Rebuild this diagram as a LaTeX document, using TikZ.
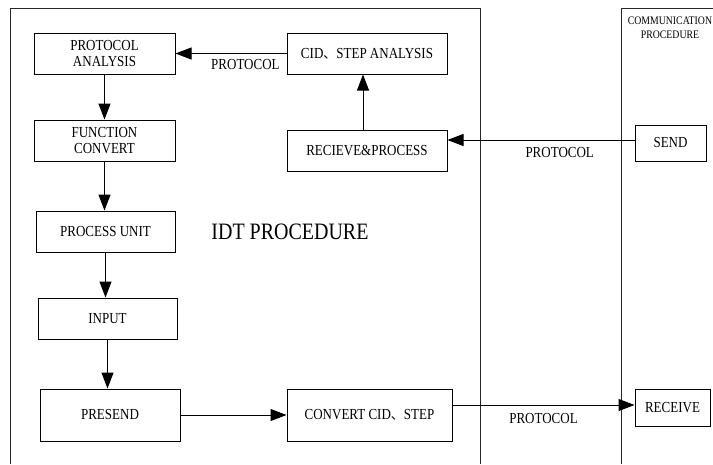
\documentclass[tikz,border=0pt]{standalone}
\usepackage{fontspec}
\setmainfont{Liberation Serif}[FakeStretch=0.85]
\newfontfamily\cjk{Noto Sans CJK SC}
\usetikzlibrary{arrows.meta}
\newcommand{\dunhao}{{\cjk\fontsize{13}{16}\selectfont 、}}
\tikzset{
  box/.style={draw, line width=1pt, align=center, inner sep=0pt,
              font=\fontsize{15.3}{16.5}\selectfont},
  arr/.style={line width=1pt, -{Triangle[length=16pt,width=12pt]}},
  frameline/.style={line width=1pt, draw=black!85},
  lbl/.style={font=\fontsize{15.3}{16}\selectfont, inner sep=0pt}
}
\begin{document}
\begin{tikzpicture}[x=1pt,y=-1pt]
\useasboundingbox (0,0) rectangle (713,464);
% frames
\draw[frameline] (10,464) -- (10,8) -- (480,8) -- (480,464);
\draw[frameline] (621,464) -- (621,8) -- (713,8);
% boxes
\node[box, minimum width=141pt, minimum height=41pt] (pa) at (104.5,53.5) {PROTOCOL\\ANALYSIS};
\node[box, minimum width=141pt, minimum height=41pt] (fc) at (104.5,140.5) {FUNCTION\\CONVERT};
\node[box, minimum width=139pt, minimum height=41pt] (pu) at (105.5,231.5) {PROCESS UNIT};
\node[box, minimum width=139pt, minimum height=41pt] (inp) at (107.5,318.5) {INPUT};
\node[box, minimum width=140pt, minimum height=52pt] (ps) at (110,415) {PRESEND};
\node[box, minimum width=160pt, minimum height=41pt] (cid) at (367,53.5) {CID\dunhao STEP ANALYSIS};
\node[box, minimum width=160pt, minimum height=41pt] (rp) at (367,150.5) {RECIEVE\&PROCESS};
\node[box, minimum width=165pt, minimum height=52pt] (cv) at (369.5,415) {CONVERT CID\dunhao STEP};
\node[box, minimum width=71pt, minimum height=36pt] (send) at (670.5,143) {SEND};
\node[box, minimum width=75pt, minimum height=37pt] (recv) at (672.5,407.5) {RECEIVE};
% texts
\node[font=\fontsize{23.5}{26}\selectfont, inner sep=0pt] (idt) at (290,232) {IDT PROCEDURE};
\node[font=\fontsize{11.5}{14.5}\selectfont, align=center, inner sep=0pt] (comm) at (670,27.5) {COMMUNICATION\\PROCEDURE};
% connectors
\draw[arr] (cid.west) -- (pa.east) node[lbl, pos=0.37, below=5pt] (l1) {PROTOCOL};
\draw[arr] (pa.south) -- (pa.south |- fc.north);
\draw[arr] (fc.south) -- (fc.south |- pu.north);
\draw[arr] (pu.south) -- (pu.south |- inp.north);
\draw[arr] (inp.south) -- (inp.south |- ps.north);
\draw[arr] ([xshift=-4pt]rp.north) -- ([xshift=-4pt]cid.south);
\draw[arr] ([yshift=3pt]send.west) -- ([yshift=3pt]send.west -| rp.east)
  node[lbl, pos=0.4, below=7pt] (l2) {PROTOCOL};
\draw[arr] (ps.east) -- (cv.west);
\draw[arr] ([yshift=10pt]cv.east) -- ([yshift=10pt]cv.east -| recv.west)
  node[lbl, pos=0.5, below=8pt] (l3) {PROTOCOL};
\end{tikzpicture}
\end{document}
